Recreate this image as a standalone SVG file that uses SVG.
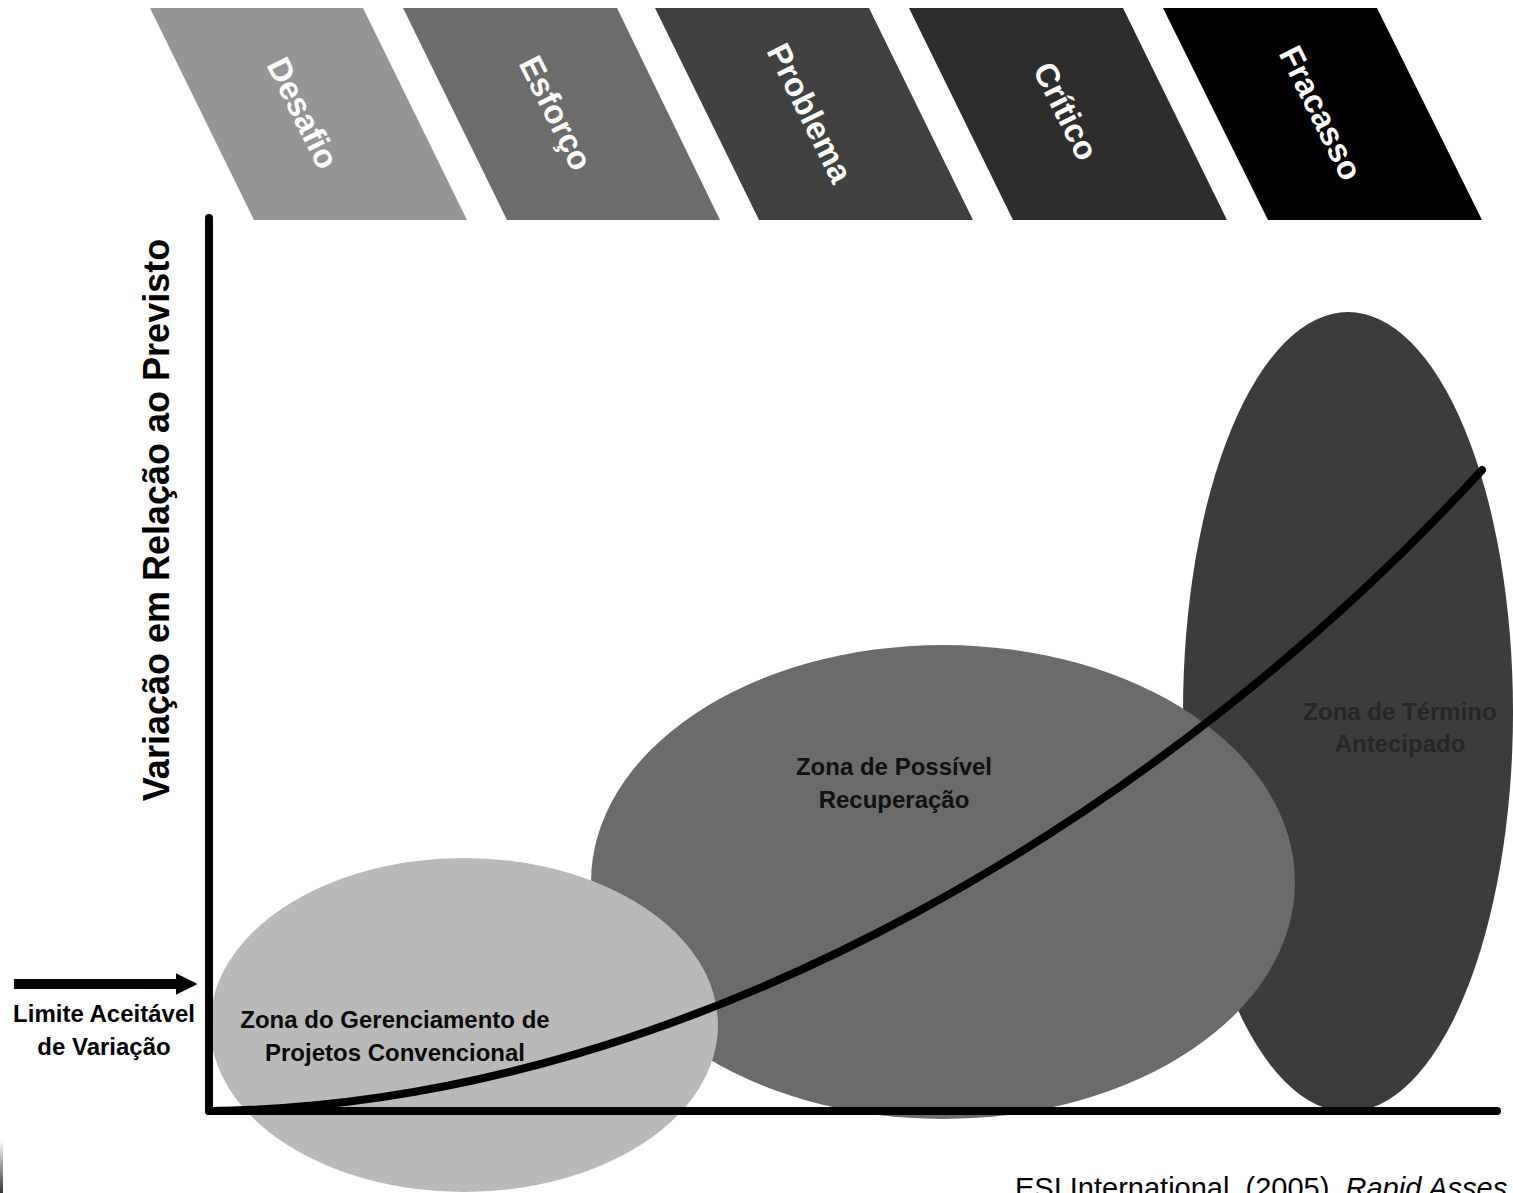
<svg xmlns="http://www.w3.org/2000/svg" width="1513" height="1193" viewBox="0 0 1513 1193">
  <defs>
    <style>
      .band-label { font-family: "Liberation Sans", Arial, sans-serif; font-weight: bold; font-size: 33px; fill: #ffffff; text-anchor: middle; }
      .zone-label { font-family: "Liberation Sans", Arial, sans-serif; font-weight: bold; font-size: 24px; text-anchor: middle; }
      .axis-label { font-family: "Liberation Sans", Arial, sans-serif; font-weight: bold; font-size: 36px; fill: #000000; text-anchor: middle; }
      .limit-label { font-family: "Liberation Sans", Arial, sans-serif; font-weight: bold; font-size: 24px; fill: #000000; text-anchor: middle; }
      .source { font-family: "Liberation Sans", Arial, sans-serif; font-size: 29px; fill: #000000; }
      .axis { fill: none; stroke: #000000; stroke-width: 8; stroke-linecap: round; stroke-linejoin: round; }
      .curve { fill: none; stroke: #000000; stroke-width: 8; stroke-linecap: round; }
    </style>
    <marker id="arrowHead" viewBox="0 0 10 10" refX="2" refY="5" markerWidth="2.2" markerHeight="2.4" orient="auto" markerUnits="strokeWidth">
      <path d="M0,0 L10,5 L0,10 Z" fill="#000000"/>
    </marker>
    <linearGradient id="edgeFade" x1="0" y1="0" x2="0" y2="1">
      <stop offset="0" stop-color="#000000" stop-opacity="0"/>
      <stop offset="1" stop-color="#000000" stop-opacity="0.8"/>
    </linearGradient>
  </defs>

  <rect x="0" y="0" width="1513" height="1193" fill="#ffffff"/>

  <!-- severity bands along the top -->
  <g id="band-desafio">
    <polygon points="150,8 363,8 467,220 254,220" fill="#959595"/>
    <text class="band-label" transform="translate(303,113) rotate(63.5)" dy="0.35em">Desafio</text>
  </g>
  <g id="band-esforco">
    <polygon points="403,8 617,8 720,220 507,220" fill="#6c6c6c"/>
    <text class="band-label" transform="translate(556,113) rotate(63.5)" dy="0.35em">Esforço</text>
  </g>
  <g id="band-problema">
    <polygon points="655,8 869,8 973,220 759,220" fill="#414141"/>
    <text class="band-label" transform="translate(810,113) rotate(63.5)" dy="0.35em">Problema</text>
  </g>
  <g id="band-critico">
    <polygon points="909,8 1123,8 1227,220 1013,220" fill="#2d2d2d"/>
    <text class="band-label" transform="translate(1066,111) rotate(63.5)" dy="0.35em">Crítico</text>
  </g>
  <g id="band-fracasso">
    <polygon points="1163,8 1377,8 1482,220 1268,220" fill="#000000"/>
    <text class="band-label" transform="translate(1321,113) rotate(63.5)" dy="0.35em">Fracasso</text>
  </g>

  <!-- zones -->
  <g id="zone-termino">
    <ellipse cx="1348" cy="712" rx="165" ry="400" fill="#3c3c3c"/>
    <text class="zone-label" fill="#262626" x="1400" y="720">Zona de Término</text>
    <text class="zone-label" fill="#262626" x="1400" y="752">Antecipado</text>
  </g>
  <g id="zone-recuperacao">
    <ellipse cx="943" cy="882" rx="352" ry="237" fill="#6b6b6b"/>
    <text class="zone-label" fill="#111111" x="894" y="775">Zona de Possível</text>
    <text class="zone-label" fill="#111111" x="894" y="808">Recuperação</text>
  </g>
  <g id="zone-convencional">
    <ellipse cx="464" cy="1025" rx="254" ry="167" fill="#b9b9b9"/>
    <text class="zone-label" fill="#0a0a0a" x="395" y="1028">Zona do Gerenciamento de</text>
    <text class="zone-label" fill="#0a0a0a" x="395" y="1061">Projetos Convencional</text>
  </g>

  <!-- axes, trend curve and limit arrow -->
  <g id="connectors">
    <path class="axis" d="M209,218 L209,1111 L1497,1111"/>
    <path class="curve" d="M209,1111 C700,1106 1180,800 1482,470"/>
    <line x1="14" y1="984" x2="180" y2="984" stroke="#000000" stroke-width="10" marker-end="url(#arrowHead)"/>
  </g>

  <g id="axis-title">
    <text class="axis-label" transform="translate(156,520) rotate(-90)" dy="0.35em">Variação em Relação ao Previsto</text>
  </g>

  <g id="limit-label">
    <text class="limit-label" x="104" y="1022">Limite Aceitável</text>
    <text class="limit-label" x="104" y="1055">de Variação</text>
  </g>

  <g id="source">
    <text class="source" x="1015" y="1198">ESI International. (2005). <tspan font-style="italic">Rapid Asses</tspan></text>
  </g>

  <rect x="0" y="1140" width="3" height="53" fill="url(#edgeFade)"/>
</svg>
